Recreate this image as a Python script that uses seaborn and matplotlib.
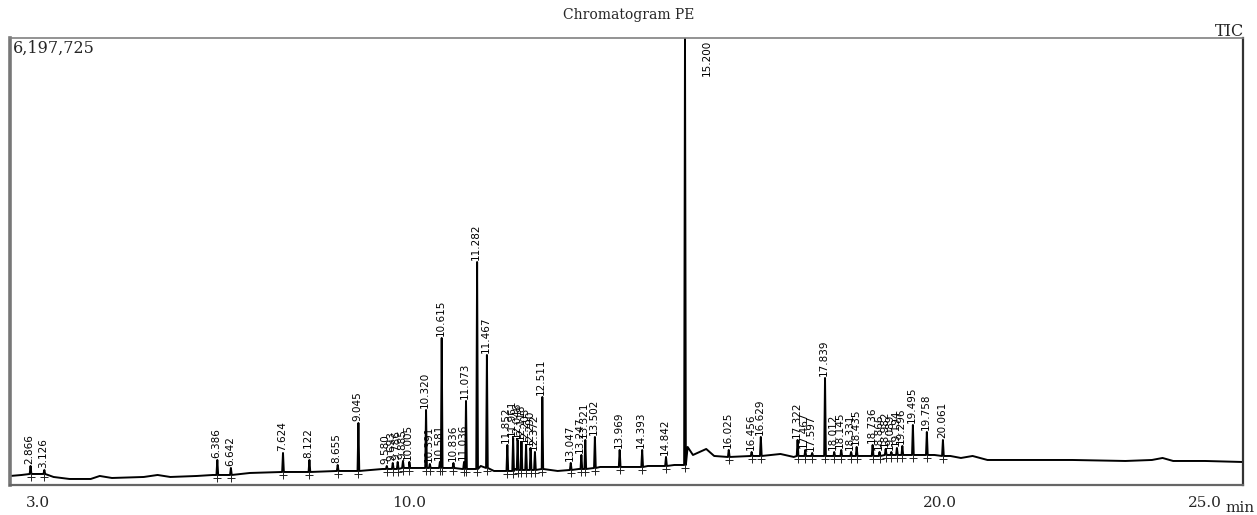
import numpy as np, pandas as pd
import matplotlib as mpl
mpl.use("Agg")
import matplotlib.pyplot as plt
from matplotlib.ticker import FixedLocator, MultipleLocator
import seaborn as sns

sns.set_style("white")
SERIF = ["DejaVu Serif", "Liberation Serif"]
NARROW = ["Liberation Sans Narrow", "DejaVu Sans Condensed", "DejaVu Sans"]
plt.rcParams["font.family"] = SERIF

# ---- data (time in min, intensity in counts) ----
y_max = 6197725

base_t = [2.48, 2.70, 2.95, 3.30, 3.60, 4.00, 4.17, 4.40, 5.00, 5.26, 5.50, 6.00, 6.30,
          7.00, 7.60, 8.00, 8.60, 9.00, 9.50, 10.00, 10.50, 11.00, 11.35, 11.60, 11.80,
          12.00, 12.50, 12.80, 13.20, 13.60, 14.00, 14.50, 15.00, 15.17, 15.25, 15.35,
          15.60, 15.75, 16.00, 16.50, 17.00, 17.25, 18.00, 19.00, 19.90, 20.20, 20.40,
          20.62, 20.90, 21.50, 22.50, 23.50, 24.00, 24.20, 24.40, 25.00, 25.70]
base_i = [124800, 138650, 152500, 110900, 83200, 83200, 124800, 97000, 110900, 138650,
          110900, 124800, 138650, 166400, 180200, 180200, 194100, 194100, 221800, 235700,
          235700, 221800, 263400, 194100, 194100, 221800, 221800, 194100, 221800, 249600,
          249600, 263400, 277300, 277300, 526900, 416000, 499100, 402100, 388200, 402100,
          429800, 388200, 402100, 416000, 416000, 402100, 374400, 402100, 346600, 346600,
          346600, 332800, 346600, 374400, 332800, 332800, 318900]

peak_rt = [2.866, 3.126, 6.386, 6.642, 7.624, 8.122, 8.655, 9.045, 9.580, 9.693, 9.786,
           9.885, 10.005, 10.320, 10.391, 10.581, 10.615, 10.836, 11.036, 11.073, 11.282,
           11.467, 11.852, 11.961, 12.046, 12.118, 12.205, 12.290, 12.372, 12.511, 13.047,
           13.247, 13.321, 13.502, 13.969, 14.393, 14.842, 15.200, 16.025, 16.456, 16.629,
           17.322, 17.467, 17.597, 17.839, 18.012, 18.145, 18.331, 18.435, 18.736, 18.866,
           18.982, 19.089, 19.194, 19.296, 19.495, 19.758, 20.061]
peak_top = [263400, 208000, 346600, 235700, 443700, 346600, 277300, 859600, 263400, 305000,
            319000, 332800, 319000, 1039900, 291200, 319000, 2038200, 305000, 319000,
            1164700, 3091900, 1802500, 554600, 651700, 623900, 596200, 554600, 513000,
            457500, 1220100, 305000, 416000, 623900, 665500, 485300, 485300, 388200,
            6197725, 485300, 457500, 665500, 623900, 485300, 443700, 1483600, 457500,
            485300, 457500, 526900, 554600, 457500, 499100, 457500, 513000, 540700,
            831900, 734800, 623900]
peak_base = [152500, 152500, 138650, 138650, 180200, 180200, 194100, 194100, 221800, 221800,
             221800, 235700, 235700, 235700, 235700, 235700, 235700, 235700, 221800, 221800,
             221800, 235700, 194100, 194100, 208000, 208000, 208000, 208000, 208000, 221800,
             208000, 221800, 221800, 235700, 249600, 249600, 263400, 277300, 388200, 402100,
             402100, 402100, 402100, 402100, 402100, 402100, 402100, 402100, 402100, 402100,
             402100, 416000, 416000, 416000, 416000, 416000, 416000, 402100]
peak_lbl = [f"{v:.3f}" for v in peak_rt]

# ---- build trace: baseline knots + a narrow triangle per peak ----
hw = 0.016
rows = list(zip(base_t, base_i))
for rt, top, b in zip(peak_rt, peak_top, peak_base):
    rows += [(rt - hw, b), (rt, top), (rt + hw, b)]
trace = pd.DataFrame(rows, columns=["t", "I"]).sort_values("t").reset_index(drop=True)

fig = plt.figure(figsize=(12.57, 5.15), dpi=100)
ax = fig.add_axes([0.008, 0.0583, 0.9806, 0.8679])

sns.lineplot(data=trace, x="t", y="I", estimator=None, sort=False, color="black",
             lw=1.4, ax=ax)
ax.scatter(peak_rt, np.array(peak_base) - 40000, marker="+", s=26, color="#222222",
           linewidths=0.7, zorder=3)

px = y_max / 447.0
for rt, top, lab in zip(peak_rt, peak_top, peak_lbl):
    if top >= 0.95 * y_max:
        ax.text(rt + 0.42, y_max - 2 * px, lab, rotation=90, ha="center", va="top",
                fontsize=7.5, family=NARROW, color="black")
    else:
        ax.text(rt - 0.02, top + 2 * px, lab, rotation=90, ha="center", va="bottom",
                fontsize=7.5, family=NARROW, color="black")

ax.set_xlim(2.48, 25.71)
ax.set_ylim(0, y_max)
ax.set_xlabel(None); ax.set_ylabel(None)
ax.set_yticks([])
ax.xaxis.set_major_locator(FixedLocator([3, 10, 15, 20, 25]))
ax.set_xticklabels(["3.0", "10.0", "", "20.0", "25.0"], fontsize=11, family=SERIF)
ax.xaxis.set_minor_locator(MultipleLocator(1))
ax.tick_params(axis="x", which="major", direction="out", length=6, width=1, pad=2,
               color="#444")
ax.tick_params(axis="x", which="minor", direction="out", length=2.5, width=1, color="#444")

for side, lw, c in [("left", 2.6, "#777777"), ("top", 1.2, "#808080"),
                    ("right", 1.6, "#333333"), ("bottom", 1.6, "#666666")]:
    ax.spines[side].set_visible(True)
    ax.spines[side].set_linewidth(lw)
    ax.spines[side].set_color(c)

ax.text(0.002, 0.997, "6,197,725", transform=ax.transAxes, ha="left", va="top",
        fontsize=11.5, family=SERIF)
fig.text(0.5, 0.971, "Chromatogram PE", ha="center", va="center", fontsize=10,
         family=SERIF)
fig.text(0.990, 0.938, "TIC", ha="right", va="center", fontsize=11.5, family=SERIF)
fig.text(0.998, 0.0, "min", ha="right", va="bottom", fontsize=11, family=SERIF)

fig.savefig("out.png", dpi=100)
